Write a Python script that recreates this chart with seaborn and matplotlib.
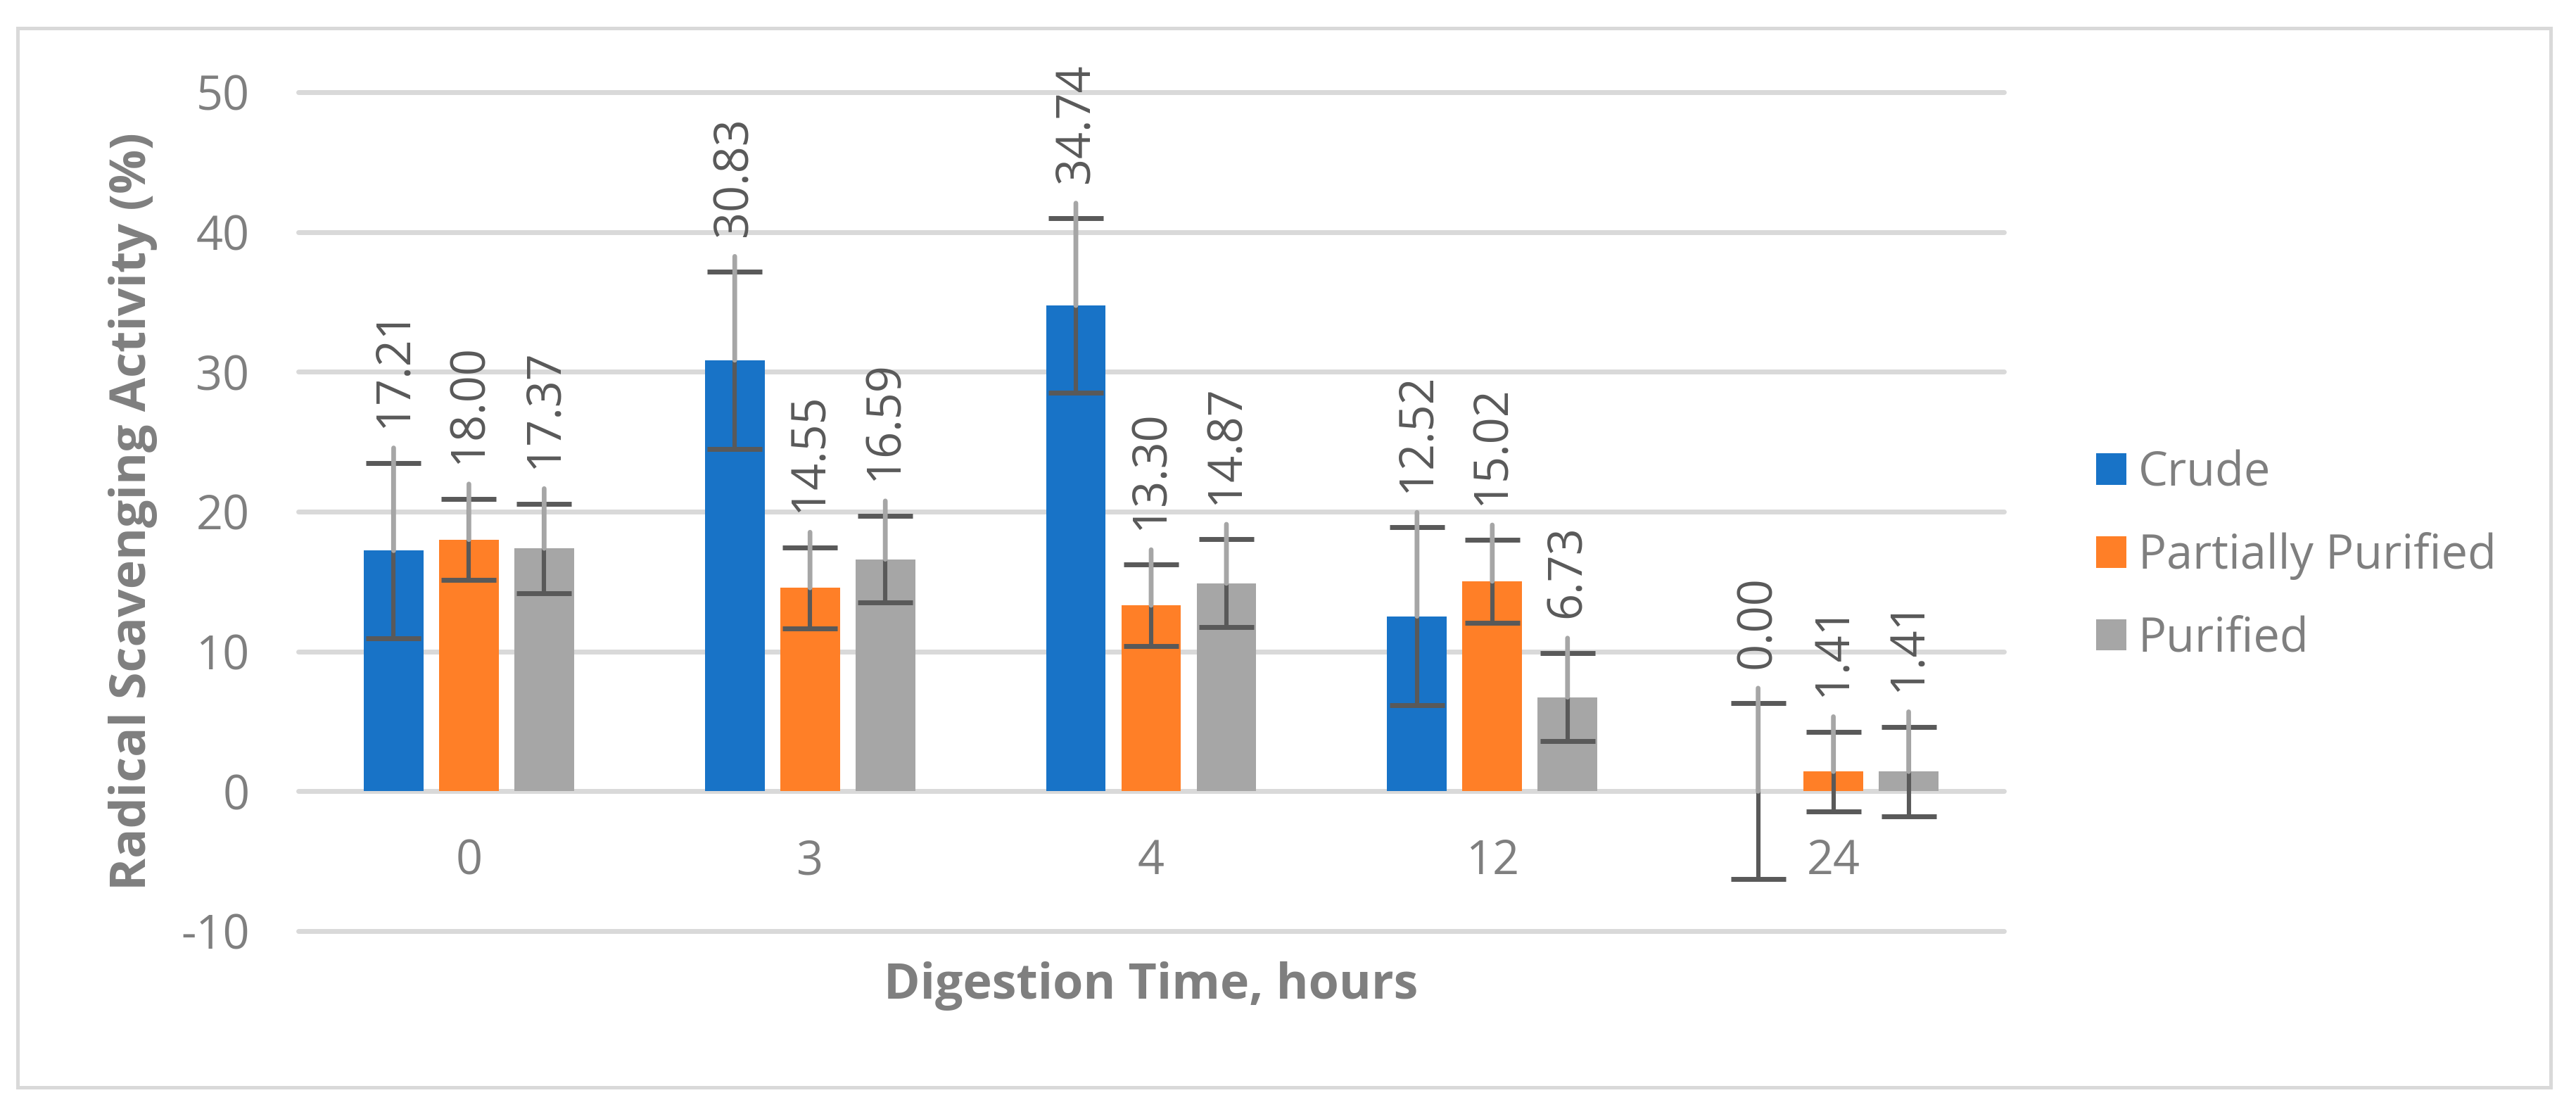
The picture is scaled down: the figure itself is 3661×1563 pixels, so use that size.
import numpy as np
import pandas as pd
import matplotlib
matplotlib.use("Agg")
import matplotlib.pyplot as plt
import seaborn as sns
from matplotlib.patches import Rectangle, Patch

# ---------------- data ----------------
times = ["0", "3", "4", "12", "24"]
series = ["Crude", "Partially Purified", "Purified"]
crude = [17.21, 30.83, 34.74, 12.52, 0.00]
partial = [18.00, 14.55, 13.30, 15.02, 1.41]
purified = [17.37, 16.59, 14.87, 6.73, 1.41]
crude_err = [6.27, 6.35, 6.25, 6.35, 6.30]
partial_err = [2.90, 2.90, 2.90, 2.95, 2.85]
purified_err = [3.20, 3.10, 3.15, 3.15, 3.20]
y_ticks = [-10, 0, 10, 20, 30, 40, 50]
x_title = "Digestion Time, hours"
y_title = "Radical Scavenging Activity (%)"

colors = ["#1873C7", "#FF7F27", "#A6A6A6"]
TXT = "#7F7F7F"
LBL = "#595959"

sns.set_style("white")
plt.rcParams["font.family"] = ["Open Sans", "DejaVu Sans"]
plt.rcParams["axes.unicode_minus"] = False

df = pd.DataFrame({
    "time": times * 3,
    "series": [s for s in series for _ in times],
    "value": crude + partial + purified,
})
err_lists = [crude_err, partial_err, purified_err]

W, H, DPI = 3662, 1563, 200
fig = plt.figure(figsize=(W / DPI, H / DPI), dpi=DPI)
ax = fig.add_axes([424 / W, 1 - 1323 / H, (2848 - 424) / W, (1323 - 131) / H])

sns.barplot(data=df, x="time", y="value", hue="series", order=times,
            hue_order=series, palette=colors, width=0.662, gap=0.206,
            errorbar=None, saturation=1, linewidth=0, ax=ax, legend=False,
            zorder=2)

ax.set_xlim(-0.5, len(times) - 0.5)
ax.set_ylim(-10, 50)
ax.set_yticks(y_ticks)
ax.set_yticklabels([str(t) for t in y_ticks])
ax.grid(axis="y", color="#D9D9D9", lw=2.5, zorder=0)
ax.grid(axis="x", visible=False)
ax.set_axisbelow(True)
for s in ax.spines.values():
    s.set_visible(False)
ax.spines["bottom"].set_position(("data", 0))
ax.tick_params(axis="both", length=0, labelsize=24, labelcolor=TXT)
ax.tick_params(axis="y", pad=25)
ax.tick_params(axis="x", pad=24)
for tk in ax.yaxis.get_major_ticks():
    tk.gridline.set_clip_on(False)

# error bars + data labels with leader lines
for cont, errs in zip(ax.containers, err_lists):
    bars = sorted(cont.patches, key=lambda b: b.get_x())
    for bar, e in zip(bars, errs):
        xc = bar.get_x() + bar.get_width() / 2
        v = bar.get_height()
        ax.errorbar(xc, v, yerr=e, fmt="none", ecolor=LBL, elinewidth=2.2,
                    capsize=14, capthick=2.5, zorder=3)
        ax.annotate(f"{v:.2f}", xy=(xc, v), xytext=(xc, v + e + 2.5),
                    textcoords="data", rotation=90, ha="center", va="bottom",
                    fontsize=24, color=LBL, zorder=4,
                    arrowprops=dict(arrowstyle="-", color="#A6A6A6", lw=2.4,
                                    shrinkA=8, shrinkB=0))

ax.set_xlabel(x_title, fontweight="bold", color=TXT, fontsize=27)
ax.set_ylabel(y_title, fontweight="bold", color=TXT, fontsize=27)
ax.xaxis.set_label_coords(0.5, -0.0654)
ax.xaxis.label.set_va("center")
ax.yaxis.set_label_coords(-0.0969, 0.5)
ax.yaxis.label.set_va("center")


def fit(text_obj, target_px):
    fig.canvas.draw()
    r = fig.canvas.get_renderer()
    ext = text_obj.get_window_extent(r)
    length = max(ext.width, ext.height)
    text_obj.set_fontsize(text_obj.get_fontsize() * target_px / length)


fit(ax.xaxis.label, 760)
fit(ax.yaxis.label, 1077)

handles = [Patch(facecolor=c, edgecolor="none") for c in colors]
leg = fig.legend(handles, series, loc="center left",
                 bbox_to_anchor=(2979 / W, 1 - 790 / H), frameon=False,
                 fontsize=24, handlelength=0.645, handleheight=0.645,
                 handletextpad=0.25, labelspacing=0.75, borderpad=0,
                 borderaxespad=0)
for t in leg.get_texts():
    t.set_color(TXT)

fig.add_artist(Rectangle((25 / W, 1 - 1545 / H), (3625 - 25) / W,
                         (1545 - 40) / H, transform=fig.transFigure,
                         fill=False, edgecolor="#D9D9D9", lw=1.8))

fig.savefig("out.png", dpi=DPI, facecolor="white")
